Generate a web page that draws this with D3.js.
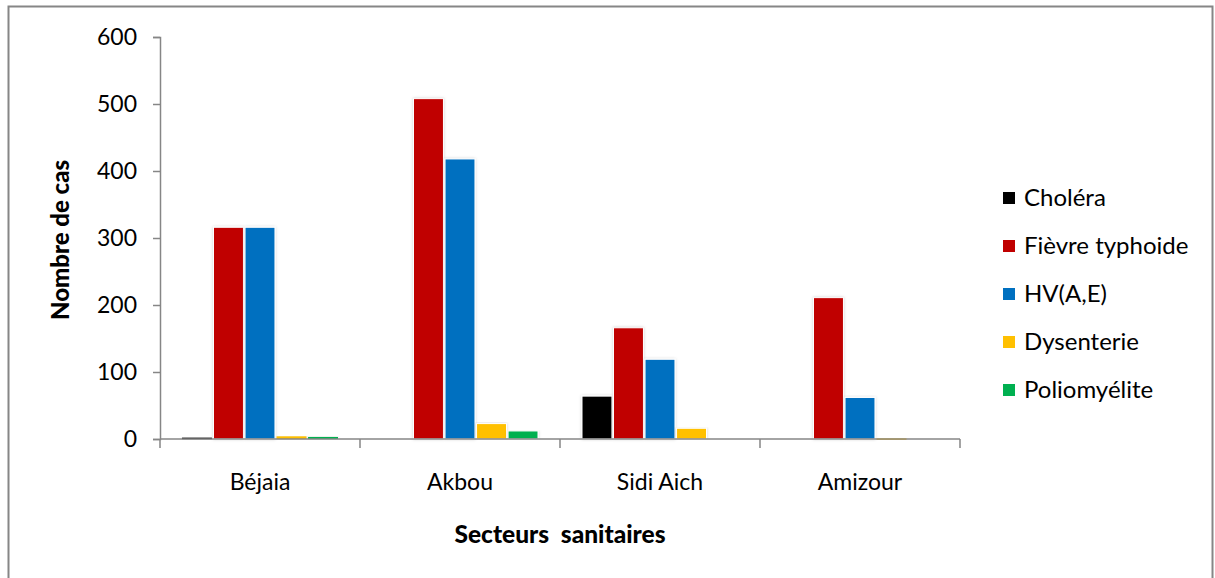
<!DOCTYPE html>
<html>
<head>
<meta charset="utf-8">
<script src="https://cdn.jsdelivr.net/npm/d3@7"></script>
<style>
  html, body { margin: 0; padding: 0; background: #fff; }
  svg { display: block; font-family: Lato, "Open Sans", sans-serif; }
</style>
</head>
<body>
<svg id="chart" width="1215" height="578"></svg>
<script>
// Cas déclarés par secteur sanitaire et par maladie
const secteurs = ["Béjaia", "Akbou", "Sidi Aich", "Amizour"];
const maladies = ["Choléra", "Fièvre typhoide", "HV(A,E)", "Dysenterie", "Poliomyélite"];
const couleurs = ["#000000", "#c00000", "#0070c0", "#ffc000", "#00b050"];
const cholera   = [2, 0, 64, 0];
const typhoide  = [316, 508, 166, 211];
const hepatite  = [316, 418, 119, 62];
const dysenterie = [4, 23, 16, 1];
const polio     = [3, 12, 0, 0];
const yTicks = [0, 100, 200, 300, 400, 500, 600];

const series = [cholera, typhoide, hepatite, dysenterie, polio];

const svg = d3.select("#chart");

// frame around the chart area
svg.append("rect")
  .attr("x", 8.5).attr("y", 6.5)
  .attr("width", 1204).attr("height", 580)
  .attr("fill", "none").attr("stroke", "#868686").attr("stroke-width", 2);

const defs = svg.append("defs");
const f = defs.append("filter").attr("id", "ombre")
  .attr("x", "-20%").attr("y", "-5%").attr("width", "140%").attr("height", "110%");
f.append("feDropShadow").attr("dx", 0).attr("dy", 0).attr("stdDeviation", 1.6)
  .attr("flood-color", "#000").attr("flood-opacity", 0.18);

const y = d3.scaleLinear().domain([0, 600]).range([439, 37]);
const x0 = d3.scaleBand().domain(secteurs).range([160, 960]).padding(0);
const x1 = d3.scaleBand().domain(maladies).range([22, 178]).paddingInner(0.05).paddingOuter(0);

// y axis
const yAxis = svg.append("g").attr("transform", "translate(160,0)")
  .call(d3.axisLeft(y).tickValues(yTicks).tickSize(7).tickPadding(16).tickFormat(d3.format("d")));
yAxis.select(".domain").attr("stroke", "#868686").attr("stroke-width", 1.5);
yAxis.selectAll(".tick line").attr("stroke", "#868686").attr("stroke-width", 1.5);
yAxis.selectAll(".tick text").attr("font-size", 23).attr("fill", "#000")
  .attr("font-family", "Lato, sans-serif");

// bars
const groups = svg.append("g").selectAll("g")
  .data(secteurs).join("g")
  .attr("transform", d => `translate(${x0(d)},0)`);

groups.selectAll("rect")
  .data((d, i) => maladies.map((m, k) => ({ m, v: series[k][i], c: couleurs[k] })))
  .join("rect")
  .filter(d => d.v > 0)
  .attr("x", d => x1(d.m))
  .attr("width", x1.bandwidth())
  .attr("y", d => y(d.v))
  .attr("height", d => Math.max(1.5, y(0) - y(d.v)))
  .attr("fill", d => d.c)
  .attr("stroke", d => (y(0) - y(d.v)) > 5 ? "#fff" : "none")
  .attr("stroke-width", 1)
  .attr("filter", "url(#ombre)");

// x axis with ticks between categories
const bounds = secteurs.map(s => x0(s)).concat([x0(secteurs[secteurs.length - 1]) + x0.bandwidth()]);
const xg = svg.append("g");
xg.append("line")
  .attr("x1", 160).attr("x2", 960).attr("y1", y(0)).attr("y2", y(0))
  .attr("stroke", "#868686").attr("stroke-width", 1.5);
xg.selectAll("line.tk").data(bounds).join("line").attr("class", "tk")
  .attr("x1", d => d).attr("x2", d => d)
  .attr("y1", y(0)).attr("y2", y(0) + 9)
  .attr("stroke", "#868686").attr("stroke-width", 1.5);
xg.selectAll("text").data(secteurs).join("text")
  .attr("x", d => x0(d) + x0.bandwidth() / 2)
  .attr("y", 490)
  .attr("text-anchor", "middle")
  .attr("font-size", 23)
  .text(d => d);

// axis titles
svg.append("text")
  .attr("x", 560).attr("y", 543)
  .attr("text-anchor", "middle")
  .attr("font-size", 24.5).attr("font-weight", 900)
  .attr("xml:space", "preserve")
  .style("white-space", "pre")
  .text("Secteurs  sanitaires");

svg.append("text")
  .attr("transform", "translate(69,240) rotate(-90)")
  .attr("text-anchor", "middle")
  .attr("font-size", 24).attr("font-weight", 900)
  .text("Nombre de cas");

// legend
const legend = svg.append("g");
const rowY = d3.scalePoint().domain(maladies).range([198, 390]);
const li = legend.selectAll("g").data(maladies).join("g")
  .attr("transform", d => `translate(1003,${rowY(d)})`);
li.append("rect")
  .attr("x", 0).attr("y", -6).attr("width", 12).attr("height", 12)
  .attr("fill", (d, i) => couleurs[i]);
li.append("text")
  .attr("x", 21).attr("y", 8)
  .attr("font-size", 24)
  .text(d => d);
</script>
</body>
</html>
